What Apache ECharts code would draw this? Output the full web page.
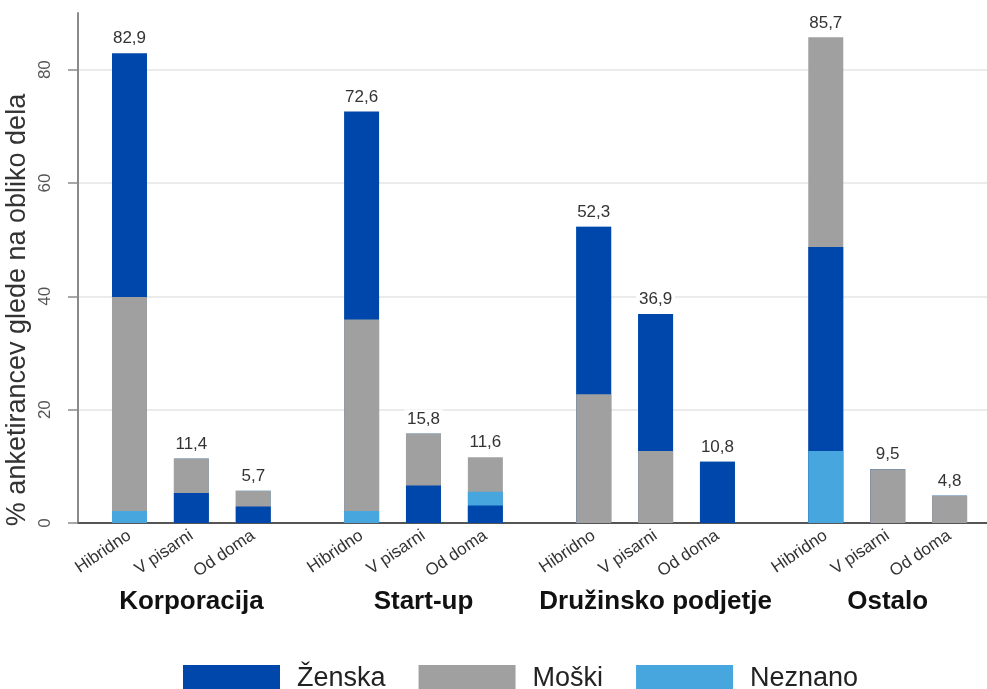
<!DOCTYPE html>
<html>
<head>
<meta charset="utf-8">
<script src="https://cdn.jsdelivr.net/npm/echarts@6/dist/echarts.min.js"></script>
<style>
  html, body { margin: 0; padding: 0; background: #fff; }
  #main { width: 987px; height: 689px; }
</style>
</head>
<body>
<div id="main"></div>
<script>
// podatki
var skupine = ['Korporacija', 'Start-up', 'Družinsko podjetje', 'Ostalo'];
var oblike = ['Hibridno', 'V pisarni', 'Od doma'];
var zenska  = [43.0, 5.3, 2.9, 36.7, 6.6, 3.1, 29.6, 24.2, 10.8, 36.0, 0, 0];
var moski   = [37.8, 6.1, 2.8, 33.8, 9.2, 6.1, 22.7, 12.7, 0, 37.0, 9.5, 4.8];
var neznano = [2.1, 0, 0, 2.1, 0, 2.4, 0, 0, 0, 12.7, 0, 0];
var skupaj  = [82.9, 11.4, 5.7, 72.6, 15.8, 11.6, 52.3, 36.9, 10.8, 85.7, 9.5, 4.8];
// vrstni red v stolpcu od spodaj navzgor (0 = Ženska, 1 = Moški, 2 = Neznano)
var vrstniRed = [
    [2, 1, 0], [0, 1, 2], [0, 1, 2],
    [2, 1, 0], [0, 1, 2], [0, 2, 1],
    [1, 0, 2], [1, 0, 2], [0, 1, 2],
    [2, 0, 1], [1, 0, 2], [1, 0, 2]
];

var spoli = ['Ženska', 'Moški', 'Neznano'];
var barve = ['#0047ab', '#a0a0a0', '#47a6de'];
var vrednosti = [zenska, moski, neznano];

// položaj stolpca na osi x
function pozicija(b) {
    return Math.floor(b / 3) * 3.75 + (b % 3);
}
var xPos = skupaj.map(function (v, b) { return pozicija(b); });
var sredine = skupine.map(function (s, g) { return g * 3.75 + 1; });

var myChart = echarts.init(document.getElementById('main'));

var series = [];
// prazne serije samo za legendo
spoli.forEach(function (ime, s) {
    series.push({
        name: ime,
        type: 'bar',
        barWidth: 35,
        barGap: '-100%',
        itemStyle: { color: barve[s] },
        data: []
    });
});
// sloji: najprej najvišji (kumulativno), nato nižji čez njega
for (var k = 2; k >= 0; k--) {
    (function (k) {
        series.push({
            name: 'sloj' + k,
            type: 'bar',
            barWidth: 35,
            barGap: '-100%',
            label: k === 2 ? {
                show: true,
                position: 'top',
                distance: 5,
                fontSize: 17,
                color: '#333',
                backgroundColor: '#fff',
                padding: [1, 3],
                formatter: function (p) { return skupaj[p.dataIndex].toFixed(1).replace('.', ','); }
            } : { show: false },
            data: skupaj.map(function (v, b) {
                var vsota = 0;
                for (var j = 0; j <= k; j++) vsota += vrednosti[vrstniRed[b][j]][b];
                var s = vrstniRed[b][k];
                return { value: [xPos[b], +vsota.toFixed(2)], itemStyle: { color: barve[s] } };
            })
        });
    })(k);
}

var option = {
    textStyle: { fontFamily: 'Liberation Sans' },
    animation: false,
    grid: { left: 78, right: 0, top: 13, bottom: 166, outerBoundsMode: 'none', containLabel: false },
    legend: {
        data: spoli,
        left: 183,
        top: 665,
        padding: 0,
        icon: 'rect',
        itemWidth: 97,
        itemHeight: 27,
        itemGap: 33,
        selectedMode: false,
        textStyle: { fontSize: 27, color: '#222', padding: [0, 0, 0, 12] }
    },
    xAxis: [{
        type: 'value',
        min: -0.832,
        max: 13.855,
        axisLine: { show: true, onZero: false, lineStyle: { color: '#555', width: 2 } },
        axisTick: { show: false },
        splitLine: { show: false },
        axisLabel: {
            customValues: xPos,
            rotate: 34,
            margin: 11,
            fontSize: 17,
            color: '#333',
            formatter: function (v) {
                for (var b = 0; b < xPos.length; b++) {
                    if (Math.abs(xPos[b] - v) < 0.01) return oblike[b % 3];
                }
                return '';
            }
        }
    }, {
        type: 'value',
        position: 'bottom',
        min: -0.832,
        max: 13.855,
        axisLine: { show: false, onZero: false },
        axisTick: { show: false },
        splitLine: { show: false },
        axisLabel: {
            customValues: sredine,
            margin: 66,
            fontSize: 26,
            fontWeight: 'bold',
            color: '#111',
            formatter: function (v) {
                for (var g = 0; g < sredine.length; g++) {
                    if (Math.abs(sredine[g] - v) < 0.01) return skupine[g];
                }
                return '';
            }
        }
    }],
    yAxis: {
        type: 'value',
        min: 0,
        max: 90,
        interval: 20,
        name: '% anketirancev glede na obliko dela',
        nameLocation: 'middle',
        nameGap: 47,
        nameMoveOverlap: false,
        nameTextStyle: { fontSize: 27, color: '#333', padding: [0, 84, 0, 0] },
        axisLine: { show: true, onZero: false, lineStyle: { color: '#8a8a8a', width: 2 } },
        axisTick: { show: true, length: 10, customValues: [0, 20, 40, 60, 80], lineStyle: { color: '#8a8a8a', width: 1.5 } },
        axisLabel: {
            customValues: [0, 20, 40, 60, 80],
            rotate: 90,
            margin: 24,
            fontSize: 17,
            color: '#555'
        },
        splitLine: {
            show: true,
            lineStyle: { color: ['#ebebeb', '#ebebeb', '#ebebeb', '#ebebeb', '#ebebeb', 'transparent'], width: 2 }
        }
    },
    series: series
};

myChart.setOption(option);
</script>
</body>
</html>
